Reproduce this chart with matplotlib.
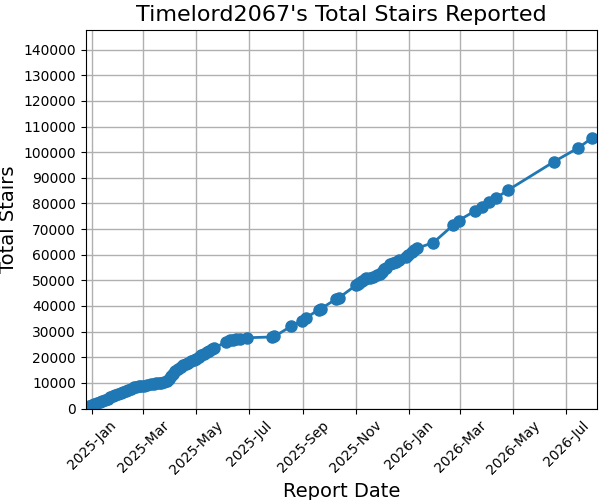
import matplotlib
matplotlib.use('Agg')
import matplotlib.pyplot as plt
import matplotlib.dates as mdates
import pandas as pd

# report dates and running totals
dates = [
    '2024-12-26', '2024-12-29', '2025-01-01', '2025-01-04', '2025-01-07',
    '2025-01-10', '2025-01-13', '2025-01-16', '2025-01-19', '2025-01-22',
    '2025-01-25', '2025-01-28', '2025-01-31', '2025-02-03', '2025-02-06',
    '2025-02-09', '2025-02-12', '2025-02-15', '2025-02-18', '2025-02-21',
    '2025-02-24', '2025-02-27', '2025-03-02', '2025-03-06', '2025-03-10',
    '2025-03-13', '2025-03-16', '2025-03-19', '2025-03-22', '2025-03-25',
    '2025-03-28', '2025-03-31', '2025-04-02', '2025-04-04', '2025-04-07',
    '2025-04-10', '2025-04-13', '2025-04-16', '2025-04-19', '2025-04-22',
    '2025-04-25', '2025-04-28', '2025-05-01', '2025-05-04', '2025-05-07',
    '2025-05-10', '2025-05-13', '2025-05-16', '2025-05-19', '2025-05-22',
    '2025-06-04', '2025-06-09', '2025-06-12', '2025-06-16', '2025-06-21',
    '2025-06-29', '2025-07-27', '2025-07-30', '2025-08-18', '2025-08-31',
    '2025-09-05', '2025-09-19', '2025-09-22', '2025-10-09', '2025-10-12',
    '2025-11-01', '2025-11-03', '2025-11-05', '2025-11-08', '2025-11-11',
    '2025-11-13', '2025-11-17', '2025-11-21', '2025-11-25', '2025-11-29',
    '2025-12-01', '2025-12-03', '2025-12-05', '2025-12-10', '2025-12-14',
    '2025-12-17', '2025-12-21', '2025-12-28', '2025-12-31', '2026-01-04',
    '2026-01-07', '2026-01-10', '2026-01-29', '2026-02-21', '2026-02-27',
    '2026-03-18', '2026-03-26', '2026-04-03', '2026-04-11', '2026-04-25',
    '2026-06-17', '2026-07-15', '2026-07-31',
]
totals = [
    500, 900, 1300, 1700, 2200,
    2600, 3000, 3400, 3900, 4400,
    4900, 5400, 5800, 6100, 6400,
    6900, 7400, 7800, 8200, 8500,
    8700, 8800, 8900, 9200, 9400,
    9600, 9800, 10000, 10100, 10300,
    10700, 11500, 12600, 13600, 14700,
    15600, 16300, 16800, 17300, 17900,
    18500, 19000, 19400, 20100, 20800,
    21400, 22000, 22600, 23100, 23500,
    26000, 26600, 26900, 27100, 27300,
    27600, 27900, 28100, 32000, 34300,
    35400, 38600, 39000, 42700, 43100,
    48100, 48500, 49100, 49800, 50400,
    50800, 51000, 51300, 52000, 52600,
    53300, 54300, 55000, 56200, 56800,
    57300, 57800, 59200, 60000, 61100,
    61800, 62500, 64700, 71600, 73300,
    77100, 78700, 80600, 82100, 85200,
    96300, 101700, 105600,
]

x = pd.to_datetime(dates)

fig, ax = plt.subplots(figsize=(6, 5), dpi=100)
ax.plot(x, totals, marker='o', markersize=8, linewidth=2, color='#1f77b4')
ax.grid(True, color='#b0b0b0', linewidth=1)
ax.set_axisbelow(True)

ax.set_xlim(pd.Timestamp('2024-12-25'), pd.Timestamp('2026-08-05'))
ax.set_ylim(0, max(totals) * 1.4)
ax.set_yticks(range(0, 140001, 10000))
ax.xaxis.set_major_locator(mdates.MonthLocator(bymonth=[1, 3, 5, 7, 9, 11]))
ax.xaxis.set_major_formatter(mdates.DateFormatter('%Y-%b'))
plt.setp(ax.get_xticklabels(), rotation=45, ha='center')

ax.set_title("Timelord2067's Total Stairs Reported", fontsize=16)
ax.set_xlabel('Report Date', fontsize=14)
ax.set_ylabel('Total Stairs', fontsize=14)

fig.subplots_adjust(left=0.143, right=0.9945, top=0.941, bottom=0.183)
fig.savefig('out.png')
